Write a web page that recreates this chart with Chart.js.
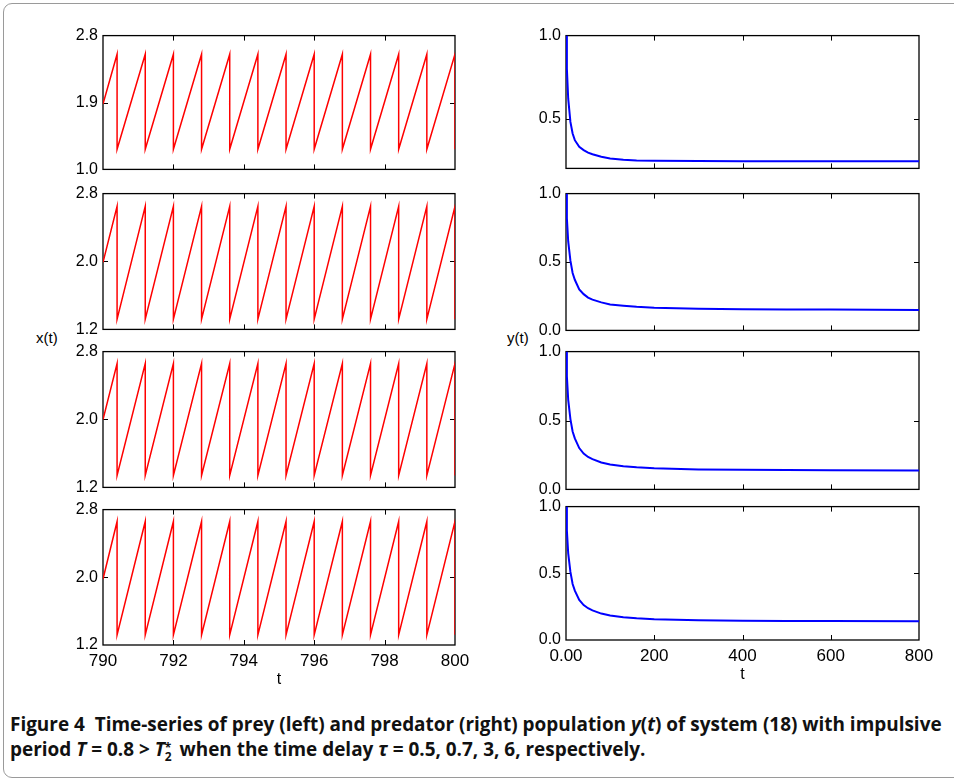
<!DOCTYPE html>
<html>
<head>
<meta charset="utf-8">
<script src="https://cdn.jsdelivr.net/npm/chart.js@4.4.0/dist/chart.umd.min.js"></script>
<style>
  body { margin: 0; background: #fff; width: 954px; height: 780px; overflow: hidden; position: relative;
         font-family: "Liberation Sans", Arial, sans-serif; }
  .frame { position: absolute; left: 3px; top: 3px; width: 970px; height: 773px;
           border: 1px solid #9a9a9a; border-radius: 9px; }
  canvas { position: absolute; }
  .ylab { position: absolute; font-size: 15px; color: #000; }
  .caption { position: absolute; left: 10px; top: 712px; font-family: "Open Sans", "Noto Sans", sans-serif;
             font-weight: bold; font-size: 19px; line-height: 25px; color: #111; white-space: nowrap; }
  .caption div { transform-origin: left center; }
  .ss { display: inline-block; vertical-align: -5px; line-height: 9px; font-size: 12px; margin-right: 3px; }
  .ss span { display: block; }
</style>
</head>
<body>
<div class="frame"></div>
<div class="ylab" style="left:36px;top:329px;">x(t)</div>
<div class="ylab" style="left:507px;top:329px;">y(t)</div>
<div class="caption">
  <div id="cap1">Figure 4&nbsp; Time-series of prey (left) and predator (right) population <i>y</i>(<i>t</i>) of system (18) with impulsive</div>
  <div id="cap2">period <i>T</i> = 0.8 &gt; <i>T</i><span class="ss"><span>*</span><span>2</span></span> when the time delay <i>τ</i> = 0.5, 0.7, 3, 6, respectively.</div>
</div>

<script>
// prey x(t): sawtooth with impulses every T = 0.8
const preyStartTime = 790;
const impulseTimes = [790.4, 791.2, 792.0, 792.8, 793.6, 794.4, 795.2, 796.0, 796.8, 797.6, 798.4, 799.2, 800.0];
const preyStart = [1.88, 1.99, 2.00, 1.98];
const preyPeak  = [2.55, 2.65, 2.66, 2.66];
const preyLow   = [1.27, 1.32, 1.34, 1.32];
const preyYMin  = [1.0, 1.2, 1.2, 1.2];
const preyYMax  = [2.8, 2.8, 2.8, 2.8];
const preyYTicks = [[1.0, 1.9, 2.8], [1.2, 2.0, 2.8], [1.2, 2.0, 2.8], [1.2, 2.0, 2.8]];
const preyXTicks = [790, 792, 794, 796, 798, 800];

// predator y(t)
const predT  = [0, 2, 5, 10, 15, 20, 30, 40, 50, 60, 80, 100, 130, 160, 200, 300, 400, 500, 600, 800];
const predY1 = [1.0, 0.80, 0.62, 0.48, 0.41, 0.37, 0.33, 0.31, 0.295, 0.285, 0.27, 0.26, 0.252, 0.248, 0.246, 0.244, 0.243, 0.243, 0.243, 0.243];
const predY2 = [1.0, 0.82, 0.65, 0.51, 0.42, 0.37, 0.30, 0.265, 0.24, 0.225, 0.205, 0.19, 0.18, 0.172, 0.165, 0.158, 0.155, 0.153, 0.152, 0.150];
const predY3 = [1.0, 0.82, 0.65, 0.51, 0.42, 0.37, 0.30, 0.26, 0.235, 0.22, 0.195, 0.18, 0.168, 0.16, 0.153, 0.145, 0.142, 0.140, 0.139, 0.138];
const predY4 = [1.0, 0.82, 0.65, 0.51, 0.42, 0.37, 0.30, 0.262, 0.238, 0.222, 0.198, 0.183, 0.171, 0.163, 0.156, 0.148, 0.145, 0.143, 0.142, 0.141];
const predSeries = [predY1, predY2, predY3, predY4];
const predYMin = [0.2, 0, 0, 0];
const predYTicks = [[0.5, 1.0], [0.0, 0.5, 1.0], [0.0, 0.5, 1.0], [0.0, 0.5, 1.0]];
const predXTicks = [0, 200, 400, 600, 800];

// plot-area placement (page pixels)
const leftPlotX = 103, leftPlotW = 352;
const rightPlotX = 566, rightPlotW = 353;
const leftTops = [31, 189, 347, 505], leftBottoms = [172, 332, 490, 645];
const rightTops = [31, 189, 347, 502], rightBottoms = [171, 333, 492, 640];
const Y_AXIS_W = 60, PAD_TOP = 10, PAD_RIGHT = 22;
const TICK_FONT = '"Liberation Sans", Arial, sans-serif';

// box + inward ticks on all four sides, like the original figure
const frameTicks = {
  id: 'frameTicks',
  beforeDatasetsDraw(chart) {
    const { ctx, chartArea: a, scales } = chart;
    const len = 5;
    ctx.save();
    ctx.strokeStyle = '#000';
    ctx.lineWidth = 1;
    ctx.beginPath();
    scales.x.ticks.forEach(t => {
      const px = Math.round(scales.x.getPixelForValue(t.value)) + 0.5;
      if (px <= a.left + 2 || px >= a.right - 2) return;
      ctx.moveTo(px, a.bottom); ctx.lineTo(px, a.bottom - len);
      ctx.moveTo(px, a.top); ctx.lineTo(px, a.top + len);
    });
    scales.y.ticks.forEach(t => {
      const py = Math.round(scales.y.getPixelForValue(t.value)) + 0.5;
      if (py <= a.top + 2 || py >= a.bottom - 2) return;
      ctx.moveTo(a.left, py); ctx.lineTo(a.left + len, py);
      ctx.moveTo(a.right, py); ctx.lineTo(a.right - len, py);
    });
    ctx.stroke();
    ctx.lineWidth = 1.3;
    ctx.strokeRect(a.left, a.top, a.right - a.left, a.bottom - a.top);
    ctx.restore();
  }
};

function addCanvas(left, top, w, h) {
  const c = document.createElement('canvas');
  c.width = w; c.height = h;
  c.style.left = left + 'px';
  c.style.top = top + 'px';
  document.body.appendChild(c);
  return c;
}

function makePanel(opts) {
  const plotH = opts.bottom - opts.top;
  const xH = opts.last ? 46 : 12;
  const canvas = addCanvas(opts.plotX - Y_AXIS_W, opts.top - PAD_TOP,
                           Y_AXIS_W + opts.plotW + PAD_RIGHT, PAD_TOP + plotH + xH);
  return new Chart(canvas.getContext('2d'), {
    type: 'line',
    data: {
      datasets: [{
        data: opts.points,
        borderColor: opts.color,
        borderWidth: opts.lineWidth,
        pointRadius: 0,
        tension: 0,
        fill: false,
      }]
    },
    options: {
      responsive: false,
      animation: false,
      layout: { padding: { top: PAD_TOP, right: PAD_RIGHT, left: 0, bottom: 0 } },
      plugins: { legend: { display: false }, tooltip: { enabled: false } },
      scales: {
        x: {
          type: 'linear',
          min: opts.xTicks[0],
          max: opts.xTicks[opts.xTicks.length - 1],
          afterBuildTicks: s => { s.ticks = opts.xTicks.map(v => ({ value: v })); },
          afterFit: s => { s.height = xH; },
          grid: { display: false, drawTicks: false },
          border: { display: false },
          ticks: {
            display: opts.last,
            padding: 6,
            maxRotation: 0,
            autoSkip: false,
            color: '#000',
            font: { family: TICK_FONT, size: 17 },
            callback: opts.xLabel,
          },
          title: {
            display: opts.last,
            text: 't',
            color: '#000',
            padding: { top: 0, bottom: 2 },
            font: { family: TICK_FONT, size: 16 },
          },
        },
        y: {
          min: opts.yMin,
          max: opts.yMax,
          afterBuildTicks: s => { s.ticks = opts.yTicks.map(v => ({ value: v })); },
          afterFit: s => { s.width = Y_AXIS_W; },
          grid: { display: false, drawTicks: false },
          border: { display: false },
          ticks: {
            padding: 5,
            autoSkip: false,
            color: '#000',
            font: { family: TICK_FONT, size: 16 },
            callback: v => Number(v).toFixed(1),
          },
        },
      },
    },
    plugins: [frameTicks],
  });
}

for (let i = 0; i < 4; i++) {
  // prey: rise to peak, instant drop at each impulse
  const pts = [{ x: preyStartTime, y: preyStart[i] }];
  impulseTimes.forEach(t => {
    pts.push({ x: t, y: preyPeak[i] });
    pts.push({ x: t, y: preyLow[i] });
  });
  makePanel({
    plotX: leftPlotX, plotW: leftPlotW, top: leftTops[i], bottom: leftBottoms[i],
    points: pts, color: '#ff0000', lineWidth: 1.5,
    xTicks: preyXTicks, xLabel: v => String(v),
    yMin: preyYMin[i], yMax: preyYMax[i], yTicks: preyYTicks[i],
    last: i === 3,
  });

  makePanel({
    plotX: rightPlotX, plotW: rightPlotW, top: rightTops[i], bottom: rightBottoms[i],
    points: predT.map((t, k) => ({ x: t, y: predSeries[i][k] })),
    color: '#0000ff', lineWidth: 2,
    xTicks: predXTicks, xLabel: v => (v === 0 ? '0.00' : String(v)),
    yMin: predYMin[i], yMax: 1.0, yTicks: predYTicks[i],
    last: i === 3,
  });
}

// squeeze caption to the original line width
const cap1 = document.getElementById('cap1');
const cap2 = document.getElementById('cap2');
const k = 932 / cap1.scrollWidth;
cap1.style.transform = 'scaleX(' + k + ')';
cap2.style.transform = 'scaleX(' + k + ')';
</script>
</body>
</html>
